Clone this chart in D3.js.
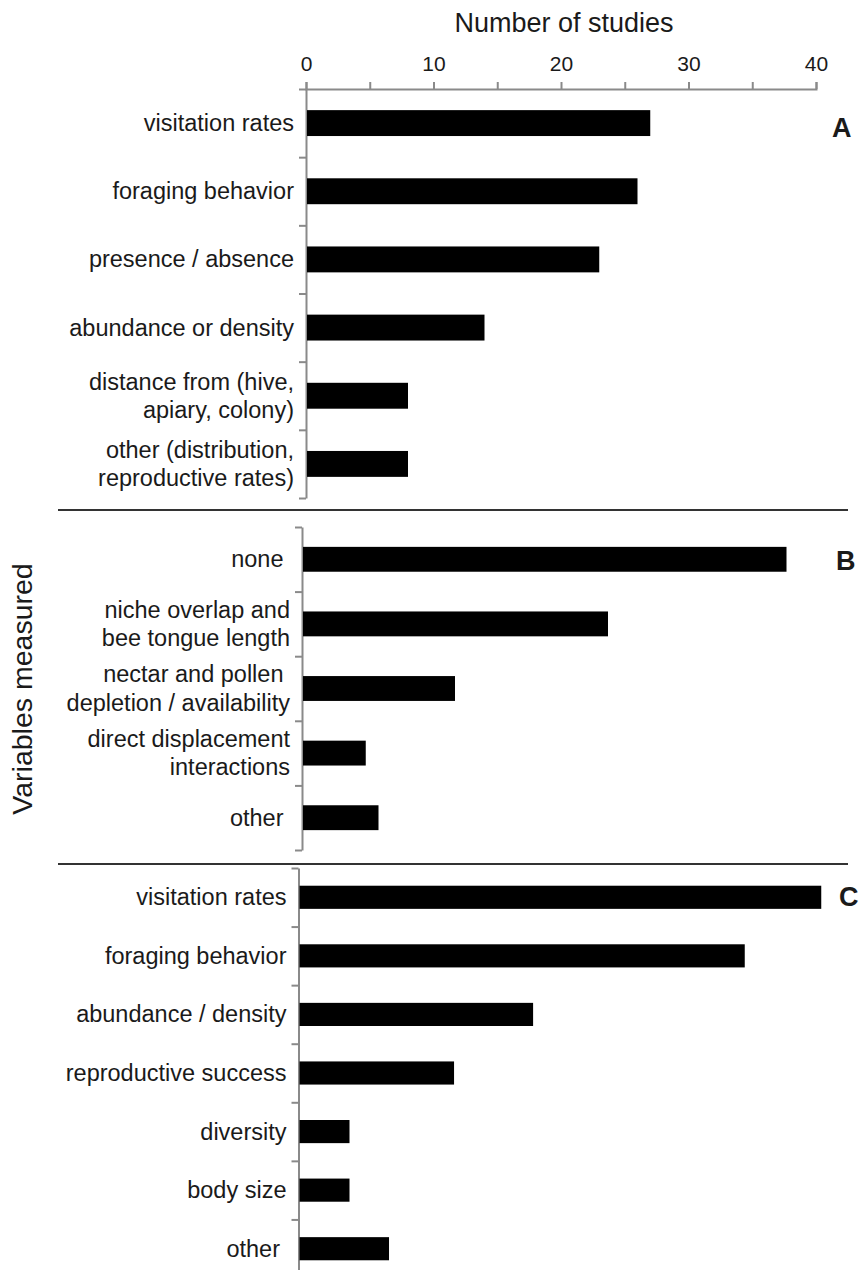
<!DOCTYPE html>
<html>
<head>
<meta charset="utf-8">
<script src="https://cdn.jsdelivr.net/npm/d3@7"></script>
<style>
  html, body { margin: 0; padding: 0; background: #fff; }
  svg text { font-family: "Liberation Sans", Arial, sans-serif; fill: #1a1a1a; }
</style>
</head>
<body>
<svg id="chart" width="862" height="1270"></svg>
<script>
// ---- data ----
const xTickValues = [0, 5, 10, 15, 20, 25, 30, 35, 40];
const xTickLabels = ["0", "", "10", "", "20", "", "30", "", "40"];

const categoriesA = ["visitation rates", "foraging behavior", "presence / absence", "abundance or density",
  "distance from (hive,\napiary, colony)", "other (distribution,\nreproductive rates)"];
const valuesA = [27, 26, 23, 14, 8, 8];

const categoriesB = ["none ", "niche overlap and\nbee tongue length", "nectar and pollen \ndepletion / availability",
  "direct displacement\ninteractions", "other "];
const valuesB = [38, 24, 12, 5, 6];

const categoriesC = ["visitation rates", "foraging behavior", "abundance / density", "reproductive success",
  "diversity", "body size", "other "];
const valuesC = [41, 35, 18.4, 12.2, 4, 4, 7.1];

const panelLetters = ["A", "B", "C"];
const xTitle = "Number of studies";
const yTitle = "Variables measured";

// ---- layout ----
const svg = d3.select("#chart");
const axisColor = "#8a8a8a";

const panels = [
  { cats: categoriesA, vals: valuesA, x0: 306, y0: 89, y1: 498, pad: 0.62, letter: panelLetters[0], lx: 832, ly: 137 },
  { cats: categoriesB, vals: valuesB, x0: 302, y0: 527, y1: 850, pad: 0.615, letter: panelLetters[1], lx: 836, ly: 570 },
  { cats: categoriesC, vals: valuesC, x0: 298.5, y0: 868, y1: 1278, pad: 0.605, letter: panelLetters[2], lx: 839, ly: 906 }
];
const plotW = 510;

panels.forEach((p, pi) => {
  const x = d3.scaleLinear().domain([0, 40]).range([p.x0, p.x0 + plotW]);
  const y = d3.scaleBand().domain(p.cats).range([p.y0, p.y1]).paddingInner(p.pad).paddingOuter(p.pad / 2);
  const g = svg.append("g");

  if (pi === 0) {
    const ax = g.append("g").attr("transform", `translate(0,${p.y0})`)
      .call(d3.axisTop(x).tickValues(xTickValues).tickSize(7).tickPadding(11)
        .tickFormat((d, i) => xTickLabels[i]));
    ax.select(".domain").attr("stroke", axisColor).attr("stroke-width", 2);
    ax.selectAll(".tick line").attr("stroke", axisColor).attr("stroke-width", 2);
    ax.selectAll(".tick text").attr("font-size", 21).attr("fill", "#1a1a1a")
      .attr("font-family", '"Liberation Sans", Arial, sans-serif');
  }

  const boundaries = d3.scaleLinear().domain([0, p.cats.length]).range([p.y0, p.y1]);
  const ay = g.append("g").attr("transform", `translate(${p.x0},0)`)
    .call(d3.axisLeft(boundaries).tickValues(d3.range(0, p.cats.length + 1)).tickSize(7).tickSizeOuter(0).tickFormat(""));
  ay.select(".domain").attr("stroke", axisColor).attr("stroke-width", 2);
  ay.selectAll(".tick line").attr("stroke", axisColor).attr("stroke-width", 2);

  g.selectAll("rect.bar").data(p.vals).join("rect")
    .attr("class", "bar")
    .attr("x", x(0) + 1)
    .attr("y", (d, i) => y(p.cats[i]))
    .attr("width", d => x(d) - x(0) - 1)
    .attr("height", y.bandwidth())
    .attr("fill", "#000");

  const lineH = 28.5;
  g.selectAll("text.cat").data(p.cats).join("text")
    .attr("class", "cat")
    .attr("text-anchor", "end")
    .attr("font-size", 23.5)
    .style("white-space", "pre")
    .each(function (d) {
      const lines = d.split("\n");
      const cy = y(d) + y.bandwidth() / 2;
      const t = d3.select(this);
      lines.forEach((ln, k) => {
        t.append("tspan")
          .attr("x", p.x0 - 12)
          .attr("y", cy + 8 + (k - (lines.length - 1) / 2) * lineH)
          .text(ln);
      });
    });

  g.append("text").attr("x", p.lx).attr("y", p.ly)
    .attr("font-size", 27).attr("font-weight", "bold").text(p.letter);
});

[510, 864].forEach(yy => {
  svg.append("line").attr("x1", 58).attr("x2", 848).attr("y1", yy).attr("y2", yy)
    .attr("stroke", "#333").attr("stroke-width", 2);
});

svg.append("text").attr("x", 564).attr("y", 32).attr("text-anchor", "middle")
  .attr("font-size", 27).text(xTitle);
svg.append("text").attr("transform", "translate(32,689) rotate(-90)").attr("text-anchor", "middle")
  .attr("font-size", 28.5).text(yTitle);
</script>
</body>
</html>
